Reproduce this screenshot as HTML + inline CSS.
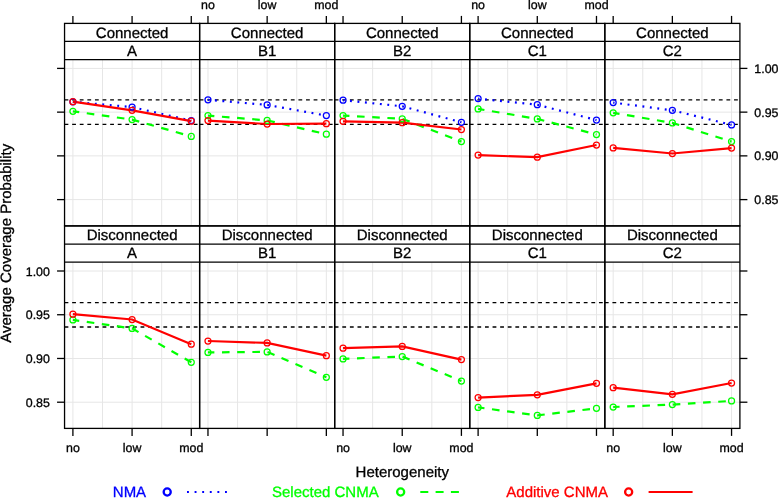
<!DOCTYPE html>
<html><head><meta charset="utf-8"><title>Average Coverage Probability</title>
<style>
html,body{margin:0;padding:0;background:#fff;}
body{width:778px;height:498px;overflow:hidden;}
svg{display:block;font-family:"Liberation Sans", sans-serif;text-rendering:geometricPrecision;}
text{stroke:currentColor;stroke-width:0.3px;fill:currentColor;color:#000;}
svg{will-change:transform;}
</style></head>
<body>
<svg width="778" height="498" viewBox="0 0 778 498">
<rect x="0" y="0" width="778" height="498" fill="#fff"/>
<line x1="72.9" y1="59.6" x2="72.9" y2="225.8" stroke="#e6e6e6" stroke-width="1"/>
<line x1="102.49" y1="59.6" x2="102.49" y2="225.8" stroke="#e6e6e6" stroke-width="1"/>
<line x1="132.08" y1="59.6" x2="132.08" y2="225.8" stroke="#e6e6e6" stroke-width="1"/>
<line x1="161.68" y1="59.6" x2="161.68" y2="225.8" stroke="#e6e6e6" stroke-width="1"/>
<line x1="191.27" y1="59.6" x2="191.27" y2="225.8" stroke="#e6e6e6" stroke-width="1"/>
<line x1="64.55" y1="199.61" x2="199.62" y2="199.61" stroke="#e6e6e6" stroke-width="1"/>
<line x1="64.55" y1="155.87" x2="199.62" y2="155.87" stroke="#e6e6e6" stroke-width="1"/>
<line x1="64.55" y1="112.14" x2="199.62" y2="112.14" stroke="#e6e6e6" stroke-width="1"/>
<line x1="64.55" y1="68.4" x2="199.62" y2="68.4" stroke="#e6e6e6" stroke-width="1"/>
<line x1="207.97" y1="59.6" x2="207.97" y2="225.8" stroke="#e6e6e6" stroke-width="1"/>
<line x1="237.56" y1="59.6" x2="237.56" y2="225.8" stroke="#e6e6e6" stroke-width="1"/>
<line x1="267.15" y1="59.6" x2="267.15" y2="225.8" stroke="#e6e6e6" stroke-width="1"/>
<line x1="296.75" y1="59.6" x2="296.75" y2="225.8" stroke="#e6e6e6" stroke-width="1"/>
<line x1="326.34" y1="59.6" x2="326.34" y2="225.8" stroke="#e6e6e6" stroke-width="1"/>
<line x1="199.62" y1="199.61" x2="334.69" y2="199.61" stroke="#e6e6e6" stroke-width="1"/>
<line x1="199.62" y1="155.87" x2="334.69" y2="155.87" stroke="#e6e6e6" stroke-width="1"/>
<line x1="199.62" y1="112.14" x2="334.69" y2="112.14" stroke="#e6e6e6" stroke-width="1"/>
<line x1="199.62" y1="68.4" x2="334.69" y2="68.4" stroke="#e6e6e6" stroke-width="1"/>
<line x1="343.04" y1="59.6" x2="343.04" y2="225.8" stroke="#e6e6e6" stroke-width="1"/>
<line x1="372.63" y1="59.6" x2="372.63" y2="225.8" stroke="#e6e6e6" stroke-width="1"/>
<line x1="402.23" y1="59.6" x2="402.23" y2="225.8" stroke="#e6e6e6" stroke-width="1"/>
<line x1="431.82" y1="59.6" x2="431.82" y2="225.8" stroke="#e6e6e6" stroke-width="1"/>
<line x1="461.41" y1="59.6" x2="461.41" y2="225.8" stroke="#e6e6e6" stroke-width="1"/>
<line x1="334.69" y1="199.61" x2="469.76" y2="199.61" stroke="#e6e6e6" stroke-width="1"/>
<line x1="334.69" y1="155.87" x2="469.76" y2="155.87" stroke="#e6e6e6" stroke-width="1"/>
<line x1="334.69" y1="112.14" x2="469.76" y2="112.14" stroke="#e6e6e6" stroke-width="1"/>
<line x1="334.69" y1="68.4" x2="469.76" y2="68.4" stroke="#e6e6e6" stroke-width="1"/>
<line x1="478.11" y1="59.6" x2="478.11" y2="225.8" stroke="#e6e6e6" stroke-width="1"/>
<line x1="507.7" y1="59.6" x2="507.7" y2="225.8" stroke="#e6e6e6" stroke-width="1"/>
<line x1="537.29" y1="59.6" x2="537.29" y2="225.8" stroke="#e6e6e6" stroke-width="1"/>
<line x1="566.89" y1="59.6" x2="566.89" y2="225.8" stroke="#e6e6e6" stroke-width="1"/>
<line x1="596.48" y1="59.6" x2="596.48" y2="225.8" stroke="#e6e6e6" stroke-width="1"/>
<line x1="469.76" y1="199.61" x2="604.83" y2="199.61" stroke="#e6e6e6" stroke-width="1"/>
<line x1="469.76" y1="155.87" x2="604.83" y2="155.87" stroke="#e6e6e6" stroke-width="1"/>
<line x1="469.76" y1="112.14" x2="604.83" y2="112.14" stroke="#e6e6e6" stroke-width="1"/>
<line x1="469.76" y1="68.4" x2="604.83" y2="68.4" stroke="#e6e6e6" stroke-width="1"/>
<line x1="613.18" y1="59.6" x2="613.18" y2="225.8" stroke="#e6e6e6" stroke-width="1"/>
<line x1="642.77" y1="59.6" x2="642.77" y2="225.8" stroke="#e6e6e6" stroke-width="1"/>
<line x1="672.36" y1="59.6" x2="672.36" y2="225.8" stroke="#e6e6e6" stroke-width="1"/>
<line x1="701.96" y1="59.6" x2="701.96" y2="225.8" stroke="#e6e6e6" stroke-width="1"/>
<line x1="731.55" y1="59.6" x2="731.55" y2="225.8" stroke="#e6e6e6" stroke-width="1"/>
<line x1="604.83" y1="199.61" x2="739.9" y2="199.61" stroke="#e6e6e6" stroke-width="1"/>
<line x1="604.83" y1="155.87" x2="739.9" y2="155.87" stroke="#e6e6e6" stroke-width="1"/>
<line x1="604.83" y1="112.14" x2="739.9" y2="112.14" stroke="#e6e6e6" stroke-width="1"/>
<line x1="604.83" y1="68.4" x2="739.9" y2="68.4" stroke="#e6e6e6" stroke-width="1"/>
<line x1="64.55" y1="99.95" x2="199.62" y2="99.95" stroke="#000" stroke-width="1.3" stroke-dasharray="3.8 3.8"/>
<line x1="64.55" y1="124.4" x2="199.62" y2="124.4" stroke="#000" stroke-width="1.3" stroke-dasharray="3.8 3.8"/>
<line x1="199.62" y1="99.95" x2="334.69" y2="99.95" stroke="#000" stroke-width="1.3" stroke-dasharray="3.8 3.8"/>
<line x1="199.62" y1="124.4" x2="334.69" y2="124.4" stroke="#000" stroke-width="1.3" stroke-dasharray="3.8 3.8"/>
<line x1="334.69" y1="99.95" x2="469.76" y2="99.95" stroke="#000" stroke-width="1.3" stroke-dasharray="3.8 3.8"/>
<line x1="334.69" y1="124.4" x2="469.76" y2="124.4" stroke="#000" stroke-width="1.3" stroke-dasharray="3.8 3.8"/>
<line x1="469.76" y1="99.95" x2="604.83" y2="99.95" stroke="#000" stroke-width="1.3" stroke-dasharray="3.8 3.8"/>
<line x1="469.76" y1="124.4" x2="604.83" y2="124.4" stroke="#000" stroke-width="1.3" stroke-dasharray="3.8 3.8"/>
<line x1="604.83" y1="99.95" x2="739.9" y2="99.95" stroke="#000" stroke-width="1.3" stroke-dasharray="3.8 3.8"/>
<line x1="604.83" y1="124.4" x2="739.9" y2="124.4" stroke="#000" stroke-width="1.3" stroke-dasharray="3.8 3.8"/>
<polyline points="72.9,101.8 132.08,107.1 191.27,120.6" fill="none" stroke="#0000ff" stroke-width="2.2" stroke-dasharray="1.9 5.6" stroke-dashoffset="0.5"/>
<polyline points="72.9,111.3 132.08,119.6 191.27,136.4" fill="none" stroke="#00ff00" stroke-width="2.2" stroke-dasharray="7.6 7.6" stroke-dashoffset="1.2"/>
<polyline points="72.9,101.7 132.08,110.3 191.27,121.2" fill="none" stroke="#ff0000" stroke-width="2.2"/>
<circle cx="72.9" cy="101.8" r="3.0" fill="none" stroke="#0000ff" stroke-width="1.25"/>
<circle cx="132.08" cy="107.1" r="3.0" fill="none" stroke="#0000ff" stroke-width="1.25"/>
<circle cx="191.27" cy="120.6" r="3.0" fill="none" stroke="#0000ff" stroke-width="1.25"/>
<circle cx="72.9" cy="111.3" r="3.0" fill="none" stroke="#00ff00" stroke-width="1.25"/>
<circle cx="132.08" cy="119.6" r="3.0" fill="none" stroke="#00ff00" stroke-width="1.25"/>
<circle cx="191.27" cy="136.4" r="3.0" fill="none" stroke="#00ff00" stroke-width="1.25"/>
<circle cx="72.9" cy="101.7" r="3.0" fill="none" stroke="#ff0000" stroke-width="1.25"/>
<circle cx="132.08" cy="110.3" r="3.0" fill="none" stroke="#ff0000" stroke-width="1.25"/>
<circle cx="191.27" cy="121.2" r="3.0" fill="none" stroke="#ff0000" stroke-width="1.25"/>
<polyline points="207.97,99.8 267.15,104.9 326.34,115.6" fill="none" stroke="#0000ff" stroke-width="2.2" stroke-dasharray="1.9 5.6" stroke-dashoffset="0.5"/>
<polyline points="207.97,115.6 267.15,120.4 326.34,134.2" fill="none" stroke="#00ff00" stroke-width="2.2" stroke-dasharray="7.6 7.6" stroke-dashoffset="1.2"/>
<polyline points="207.97,120.6 267.15,124 326.34,123.7" fill="none" stroke="#ff0000" stroke-width="2.2"/>
<circle cx="207.97" cy="99.8" r="3.0" fill="none" stroke="#0000ff" stroke-width="1.25"/>
<circle cx="267.15" cy="104.9" r="3.0" fill="none" stroke="#0000ff" stroke-width="1.25"/>
<circle cx="326.34" cy="115.6" r="3.0" fill="none" stroke="#0000ff" stroke-width="1.25"/>
<circle cx="207.97" cy="115.6" r="3.0" fill="none" stroke="#00ff00" stroke-width="1.25"/>
<circle cx="267.15" cy="120.4" r="3.0" fill="none" stroke="#00ff00" stroke-width="1.25"/>
<circle cx="326.34" cy="134.2" r="3.0" fill="none" stroke="#00ff00" stroke-width="1.25"/>
<circle cx="207.97" cy="120.6" r="3.0" fill="none" stroke="#ff0000" stroke-width="1.25"/>
<circle cx="267.15" cy="124" r="3.0" fill="none" stroke="#ff0000" stroke-width="1.25"/>
<circle cx="326.34" cy="123.7" r="3.0" fill="none" stroke="#ff0000" stroke-width="1.25"/>
<polyline points="343.04,100.2 402.23,106.3 461.41,122.3" fill="none" stroke="#0000ff" stroke-width="2.2" stroke-dasharray="1.9 5.6" stroke-dashoffset="0.5"/>
<polyline points="343.04,115.6 402.23,118.8 461.41,141.6" fill="none" stroke="#00ff00" stroke-width="2.2" stroke-dasharray="7.6 7.6" stroke-dashoffset="1.2"/>
<polyline points="343.04,121.3 402.23,122.7 461.41,129.5" fill="none" stroke="#ff0000" stroke-width="2.2"/>
<circle cx="343.04" cy="100.2" r="3.0" fill="none" stroke="#0000ff" stroke-width="1.25"/>
<circle cx="402.23" cy="106.3" r="3.0" fill="none" stroke="#0000ff" stroke-width="1.25"/>
<circle cx="461.41" cy="122.3" r="3.0" fill="none" stroke="#0000ff" stroke-width="1.25"/>
<circle cx="343.04" cy="115.6" r="3.0" fill="none" stroke="#00ff00" stroke-width="1.25"/>
<circle cx="402.23" cy="118.8" r="3.0" fill="none" stroke="#00ff00" stroke-width="1.25"/>
<circle cx="461.41" cy="141.6" r="3.0" fill="none" stroke="#00ff00" stroke-width="1.25"/>
<circle cx="343.04" cy="121.3" r="3.0" fill="none" stroke="#ff0000" stroke-width="1.25"/>
<circle cx="402.23" cy="122.7" r="3.0" fill="none" stroke="#ff0000" stroke-width="1.25"/>
<circle cx="461.41" cy="129.5" r="3.0" fill="none" stroke="#ff0000" stroke-width="1.25"/>
<polyline points="478.11,98.6 537.29,104.7 596.48,120.1" fill="none" stroke="#0000ff" stroke-width="2.2" stroke-dasharray="1.9 5.6" stroke-dashoffset="0.5"/>
<polyline points="478.11,108.9 537.29,118.9 596.48,134.5" fill="none" stroke="#00ff00" stroke-width="2.2" stroke-dasharray="7.6 7.6" stroke-dashoffset="1.2"/>
<polyline points="478.11,155.1 537.29,157.2 596.48,145" fill="none" stroke="#ff0000" stroke-width="2.2"/>
<circle cx="478.11" cy="98.6" r="3.0" fill="none" stroke="#0000ff" stroke-width="1.25"/>
<circle cx="537.29" cy="104.7" r="3.0" fill="none" stroke="#0000ff" stroke-width="1.25"/>
<circle cx="596.48" cy="120.1" r="3.0" fill="none" stroke="#0000ff" stroke-width="1.25"/>
<circle cx="478.11" cy="108.9" r="3.0" fill="none" stroke="#00ff00" stroke-width="1.25"/>
<circle cx="537.29" cy="118.9" r="3.0" fill="none" stroke="#00ff00" stroke-width="1.25"/>
<circle cx="596.48" cy="134.5" r="3.0" fill="none" stroke="#00ff00" stroke-width="1.25"/>
<circle cx="478.11" cy="155.1" r="3.0" fill="none" stroke="#ff0000" stroke-width="1.25"/>
<circle cx="537.29" cy="157.2" r="3.0" fill="none" stroke="#ff0000" stroke-width="1.25"/>
<circle cx="596.48" cy="145" r="3.0" fill="none" stroke="#ff0000" stroke-width="1.25"/>
<polyline points="613.18,102.6 672.36,110.3 731.55,124.9" fill="none" stroke="#0000ff" stroke-width="2.2" stroke-dasharray="1.9 5.6" stroke-dashoffset="0.5"/>
<polyline points="613.18,112.8 672.36,122.9 731.55,141.6" fill="none" stroke="#00ff00" stroke-width="2.2" stroke-dasharray="7.6 7.6" stroke-dashoffset="1.2"/>
<polyline points="613.18,147.9 672.36,153.5 731.55,148.1" fill="none" stroke="#ff0000" stroke-width="2.2"/>
<circle cx="613.18" cy="102.6" r="3.0" fill="none" stroke="#0000ff" stroke-width="1.25"/>
<circle cx="672.36" cy="110.3" r="3.0" fill="none" stroke="#0000ff" stroke-width="1.25"/>
<circle cx="731.55" cy="124.9" r="3.0" fill="none" stroke="#0000ff" stroke-width="1.25"/>
<circle cx="613.18" cy="112.8" r="3.0" fill="none" stroke="#00ff00" stroke-width="1.25"/>
<circle cx="672.36" cy="122.9" r="3.0" fill="none" stroke="#00ff00" stroke-width="1.25"/>
<circle cx="731.55" cy="141.6" r="3.0" fill="none" stroke="#00ff00" stroke-width="1.25"/>
<circle cx="613.18" cy="147.9" r="3.0" fill="none" stroke="#ff0000" stroke-width="1.25"/>
<circle cx="672.36" cy="153.5" r="3.0" fill="none" stroke="#ff0000" stroke-width="1.25"/>
<circle cx="731.55" cy="148.1" r="3.0" fill="none" stroke="#ff0000" stroke-width="1.25"/>
<rect x="64.55" y="23.4" width="135.07" height="202.4" fill="none" stroke="#000" stroke-width="1.3"/>
<line x1="64.55" y1="41.45" x2="199.62" y2="41.45" stroke="#000" stroke-width="1.3"/>
<line x1="64.55" y1="59.6" x2="199.62" y2="59.6" stroke="#000" stroke-width="1.3"/>
<text x="132.09" y="38" text-anchor="middle" font-size="15.0">Connected</text>
<text x="132.09" y="56" text-anchor="middle" font-size="15.0">A</text>
<rect x="199.62" y="23.4" width="135.07" height="202.4" fill="none" stroke="#000" stroke-width="1.3"/>
<line x1="199.62" y1="41.45" x2="334.69" y2="41.45" stroke="#000" stroke-width="1.3"/>
<line x1="199.62" y1="59.6" x2="334.69" y2="59.6" stroke="#000" stroke-width="1.3"/>
<text x="267.15" y="38" text-anchor="middle" font-size="15.0">Connected</text>
<text x="267.15" y="56" text-anchor="middle" font-size="15.0">B1</text>
<rect x="334.69" y="23.4" width="135.07" height="202.4" fill="none" stroke="#000" stroke-width="1.3"/>
<line x1="334.69" y1="41.45" x2="469.76" y2="41.45" stroke="#000" stroke-width="1.3"/>
<line x1="334.69" y1="59.6" x2="469.76" y2="59.6" stroke="#000" stroke-width="1.3"/>
<text x="402.23" y="38" text-anchor="middle" font-size="15.0">Connected</text>
<text x="402.23" y="56" text-anchor="middle" font-size="15.0">B2</text>
<rect x="469.76" y="23.4" width="135.07" height="202.4" fill="none" stroke="#000" stroke-width="1.3"/>
<line x1="469.76" y1="41.45" x2="604.83" y2="41.45" stroke="#000" stroke-width="1.3"/>
<line x1="469.76" y1="59.6" x2="604.83" y2="59.6" stroke="#000" stroke-width="1.3"/>
<text x="537.29" y="38" text-anchor="middle" font-size="15.0">Connected</text>
<text x="537.29" y="56" text-anchor="middle" font-size="15.0">C1</text>
<rect x="604.83" y="23.4" width="135.07" height="202.4" fill="none" stroke="#000" stroke-width="1.3"/>
<line x1="604.83" y1="41.45" x2="739.9" y2="41.45" stroke="#000" stroke-width="1.3"/>
<line x1="604.83" y1="59.6" x2="739.9" y2="59.6" stroke="#000" stroke-width="1.3"/>
<text x="672.36" y="38" text-anchor="middle" font-size="15.0">Connected</text>
<text x="672.36" y="56" text-anchor="middle" font-size="15.0">C2</text>
<line x1="72.9" y1="262.2" x2="72.9" y2="428.4" stroke="#e6e6e6" stroke-width="1"/>
<line x1="102.49" y1="262.2" x2="102.49" y2="428.4" stroke="#e6e6e6" stroke-width="1"/>
<line x1="132.08" y1="262.2" x2="132.08" y2="428.4" stroke="#e6e6e6" stroke-width="1"/>
<line x1="161.68" y1="262.2" x2="161.68" y2="428.4" stroke="#e6e6e6" stroke-width="1"/>
<line x1="191.27" y1="262.2" x2="191.27" y2="428.4" stroke="#e6e6e6" stroke-width="1"/>
<line x1="64.55" y1="402.21" x2="199.62" y2="402.21" stroke="#e6e6e6" stroke-width="1"/>
<line x1="64.55" y1="358.47" x2="199.62" y2="358.47" stroke="#e6e6e6" stroke-width="1"/>
<line x1="64.55" y1="314.74" x2="199.62" y2="314.74" stroke="#e6e6e6" stroke-width="1"/>
<line x1="64.55" y1="271" x2="199.62" y2="271" stroke="#e6e6e6" stroke-width="1"/>
<line x1="207.97" y1="262.2" x2="207.97" y2="428.4" stroke="#e6e6e6" stroke-width="1"/>
<line x1="237.56" y1="262.2" x2="237.56" y2="428.4" stroke="#e6e6e6" stroke-width="1"/>
<line x1="267.15" y1="262.2" x2="267.15" y2="428.4" stroke="#e6e6e6" stroke-width="1"/>
<line x1="296.75" y1="262.2" x2="296.75" y2="428.4" stroke="#e6e6e6" stroke-width="1"/>
<line x1="326.34" y1="262.2" x2="326.34" y2="428.4" stroke="#e6e6e6" stroke-width="1"/>
<line x1="199.62" y1="402.21" x2="334.69" y2="402.21" stroke="#e6e6e6" stroke-width="1"/>
<line x1="199.62" y1="358.47" x2="334.69" y2="358.47" stroke="#e6e6e6" stroke-width="1"/>
<line x1="199.62" y1="314.74" x2="334.69" y2="314.74" stroke="#e6e6e6" stroke-width="1"/>
<line x1="199.62" y1="271" x2="334.69" y2="271" stroke="#e6e6e6" stroke-width="1"/>
<line x1="343.04" y1="262.2" x2="343.04" y2="428.4" stroke="#e6e6e6" stroke-width="1"/>
<line x1="372.63" y1="262.2" x2="372.63" y2="428.4" stroke="#e6e6e6" stroke-width="1"/>
<line x1="402.23" y1="262.2" x2="402.23" y2="428.4" stroke="#e6e6e6" stroke-width="1"/>
<line x1="431.82" y1="262.2" x2="431.82" y2="428.4" stroke="#e6e6e6" stroke-width="1"/>
<line x1="461.41" y1="262.2" x2="461.41" y2="428.4" stroke="#e6e6e6" stroke-width="1"/>
<line x1="334.69" y1="402.21" x2="469.76" y2="402.21" stroke="#e6e6e6" stroke-width="1"/>
<line x1="334.69" y1="358.47" x2="469.76" y2="358.47" stroke="#e6e6e6" stroke-width="1"/>
<line x1="334.69" y1="314.74" x2="469.76" y2="314.74" stroke="#e6e6e6" stroke-width="1"/>
<line x1="334.69" y1="271" x2="469.76" y2="271" stroke="#e6e6e6" stroke-width="1"/>
<line x1="478.11" y1="262.2" x2="478.11" y2="428.4" stroke="#e6e6e6" stroke-width="1"/>
<line x1="507.7" y1="262.2" x2="507.7" y2="428.4" stroke="#e6e6e6" stroke-width="1"/>
<line x1="537.29" y1="262.2" x2="537.29" y2="428.4" stroke="#e6e6e6" stroke-width="1"/>
<line x1="566.89" y1="262.2" x2="566.89" y2="428.4" stroke="#e6e6e6" stroke-width="1"/>
<line x1="596.48" y1="262.2" x2="596.48" y2="428.4" stroke="#e6e6e6" stroke-width="1"/>
<line x1="469.76" y1="402.21" x2="604.83" y2="402.21" stroke="#e6e6e6" stroke-width="1"/>
<line x1="469.76" y1="358.47" x2="604.83" y2="358.47" stroke="#e6e6e6" stroke-width="1"/>
<line x1="469.76" y1="314.74" x2="604.83" y2="314.74" stroke="#e6e6e6" stroke-width="1"/>
<line x1="469.76" y1="271" x2="604.83" y2="271" stroke="#e6e6e6" stroke-width="1"/>
<line x1="613.18" y1="262.2" x2="613.18" y2="428.4" stroke="#e6e6e6" stroke-width="1"/>
<line x1="642.77" y1="262.2" x2="642.77" y2="428.4" stroke="#e6e6e6" stroke-width="1"/>
<line x1="672.36" y1="262.2" x2="672.36" y2="428.4" stroke="#e6e6e6" stroke-width="1"/>
<line x1="701.96" y1="262.2" x2="701.96" y2="428.4" stroke="#e6e6e6" stroke-width="1"/>
<line x1="731.55" y1="262.2" x2="731.55" y2="428.4" stroke="#e6e6e6" stroke-width="1"/>
<line x1="604.83" y1="402.21" x2="739.9" y2="402.21" stroke="#e6e6e6" stroke-width="1"/>
<line x1="604.83" y1="358.47" x2="739.9" y2="358.47" stroke="#e6e6e6" stroke-width="1"/>
<line x1="604.83" y1="314.74" x2="739.9" y2="314.74" stroke="#e6e6e6" stroke-width="1"/>
<line x1="604.83" y1="271" x2="739.9" y2="271" stroke="#e6e6e6" stroke-width="1"/>
<line x1="64.55" y1="302.55" x2="199.62" y2="302.55" stroke="#000" stroke-width="1.3" stroke-dasharray="3.8 3.8"/>
<line x1="64.55" y1="327" x2="199.62" y2="327" stroke="#000" stroke-width="1.3" stroke-dasharray="3.8 3.8"/>
<line x1="199.62" y1="302.55" x2="334.69" y2="302.55" stroke="#000" stroke-width="1.3" stroke-dasharray="3.8 3.8"/>
<line x1="199.62" y1="327" x2="334.69" y2="327" stroke="#000" stroke-width="1.3" stroke-dasharray="3.8 3.8"/>
<line x1="334.69" y1="302.55" x2="469.76" y2="302.55" stroke="#000" stroke-width="1.3" stroke-dasharray="3.8 3.8"/>
<line x1="334.69" y1="327" x2="469.76" y2="327" stroke="#000" stroke-width="1.3" stroke-dasharray="3.8 3.8"/>
<line x1="469.76" y1="302.55" x2="604.83" y2="302.55" stroke="#000" stroke-width="1.3" stroke-dasharray="3.8 3.8"/>
<line x1="469.76" y1="327" x2="604.83" y2="327" stroke="#000" stroke-width="1.3" stroke-dasharray="3.8 3.8"/>
<line x1="604.83" y1="302.55" x2="739.9" y2="302.55" stroke="#000" stroke-width="1.3" stroke-dasharray="3.8 3.8"/>
<line x1="604.83" y1="327" x2="739.9" y2="327" stroke="#000" stroke-width="1.3" stroke-dasharray="3.8 3.8"/>
<polyline points="72.9,319.9 132.08,328.4 191.27,362.3" fill="none" stroke="#00ff00" stroke-width="2.2" stroke-dasharray="7.6 7.6" stroke-dashoffset="1.2"/>
<polyline points="72.9,314.2 132.08,319.5 191.27,344.2" fill="none" stroke="#ff0000" stroke-width="2.2"/>
<circle cx="72.9" cy="319.9" r="3.0" fill="none" stroke="#00ff00" stroke-width="1.25"/>
<circle cx="132.08" cy="328.4" r="3.0" fill="none" stroke="#00ff00" stroke-width="1.25"/>
<circle cx="191.27" cy="362.3" r="3.0" fill="none" stroke="#00ff00" stroke-width="1.25"/>
<circle cx="72.9" cy="314.2" r="3.0" fill="none" stroke="#ff0000" stroke-width="1.25"/>
<circle cx="132.08" cy="319.5" r="3.0" fill="none" stroke="#ff0000" stroke-width="1.25"/>
<circle cx="191.27" cy="344.2" r="3.0" fill="none" stroke="#ff0000" stroke-width="1.25"/>
<polyline points="207.97,352.4 267.15,351.9 326.34,377.3" fill="none" stroke="#00ff00" stroke-width="2.2" stroke-dasharray="7.6 7.6" stroke-dashoffset="1.2"/>
<polyline points="207.97,341 267.15,342.9 326.34,355.7" fill="none" stroke="#ff0000" stroke-width="2.2"/>
<circle cx="207.97" cy="352.4" r="3.0" fill="none" stroke="#00ff00" stroke-width="1.25"/>
<circle cx="267.15" cy="351.9" r="3.0" fill="none" stroke="#00ff00" stroke-width="1.25"/>
<circle cx="326.34" cy="377.3" r="3.0" fill="none" stroke="#00ff00" stroke-width="1.25"/>
<circle cx="207.97" cy="341" r="3.0" fill="none" stroke="#ff0000" stroke-width="1.25"/>
<circle cx="267.15" cy="342.9" r="3.0" fill="none" stroke="#ff0000" stroke-width="1.25"/>
<circle cx="326.34" cy="355.7" r="3.0" fill="none" stroke="#ff0000" stroke-width="1.25"/>
<polyline points="343.04,358.9 402.23,356.5 461.41,381" fill="none" stroke="#00ff00" stroke-width="2.2" stroke-dasharray="7.6 7.6" stroke-dashoffset="1.2"/>
<polyline points="343.04,348.2 402.23,346.4 461.41,359.6" fill="none" stroke="#ff0000" stroke-width="2.2"/>
<circle cx="343.04" cy="358.9" r="3.0" fill="none" stroke="#00ff00" stroke-width="1.25"/>
<circle cx="402.23" cy="356.5" r="3.0" fill="none" stroke="#00ff00" stroke-width="1.25"/>
<circle cx="461.41" cy="381" r="3.0" fill="none" stroke="#00ff00" stroke-width="1.25"/>
<circle cx="343.04" cy="348.2" r="3.0" fill="none" stroke="#ff0000" stroke-width="1.25"/>
<circle cx="402.23" cy="346.4" r="3.0" fill="none" stroke="#ff0000" stroke-width="1.25"/>
<circle cx="461.41" cy="359.6" r="3.0" fill="none" stroke="#ff0000" stroke-width="1.25"/>
<polyline points="478.11,407.4 537.29,415.4 596.48,408.3" fill="none" stroke="#00ff00" stroke-width="2.2" stroke-dasharray="7.6 7.6" stroke-dashoffset="1.2"/>
<polyline points="478.11,397.6 537.29,394.8 596.48,383.3" fill="none" stroke="#ff0000" stroke-width="2.2"/>
<circle cx="478.11" cy="407.4" r="3.0" fill="none" stroke="#00ff00" stroke-width="1.25"/>
<circle cx="537.29" cy="415.4" r="3.0" fill="none" stroke="#00ff00" stroke-width="1.25"/>
<circle cx="596.48" cy="408.3" r="3.0" fill="none" stroke="#00ff00" stroke-width="1.25"/>
<circle cx="478.11" cy="397.6" r="3.0" fill="none" stroke="#ff0000" stroke-width="1.25"/>
<circle cx="537.29" cy="394.8" r="3.0" fill="none" stroke="#ff0000" stroke-width="1.25"/>
<circle cx="596.48" cy="383.3" r="3.0" fill="none" stroke="#ff0000" stroke-width="1.25"/>
<polyline points="613.18,407 672.36,404.6 731.55,400.9" fill="none" stroke="#00ff00" stroke-width="2.2" stroke-dasharray="7.6 7.6" stroke-dashoffset="1.2"/>
<polyline points="613.18,387.7 672.36,394.3 731.55,383" fill="none" stroke="#ff0000" stroke-width="2.2"/>
<circle cx="613.18" cy="407" r="3.0" fill="none" stroke="#00ff00" stroke-width="1.25"/>
<circle cx="672.36" cy="404.6" r="3.0" fill="none" stroke="#00ff00" stroke-width="1.25"/>
<circle cx="731.55" cy="400.9" r="3.0" fill="none" stroke="#00ff00" stroke-width="1.25"/>
<circle cx="613.18" cy="387.7" r="3.0" fill="none" stroke="#ff0000" stroke-width="1.25"/>
<circle cx="672.36" cy="394.3" r="3.0" fill="none" stroke="#ff0000" stroke-width="1.25"/>
<circle cx="731.55" cy="383" r="3.0" fill="none" stroke="#ff0000" stroke-width="1.25"/>
<rect x="64.55" y="226" width="135.07" height="202.4" fill="none" stroke="#000" stroke-width="1.3"/>
<line x1="64.55" y1="244.05" x2="199.62" y2="244.05" stroke="#000" stroke-width="1.3"/>
<line x1="64.55" y1="262.2" x2="199.62" y2="262.2" stroke="#000" stroke-width="1.3"/>
<text x="132.09" y="240" text-anchor="middle" font-size="15.0">Disconnected</text>
<text x="132.09" y="258" text-anchor="middle" font-size="15.0">A</text>
<rect x="199.62" y="226" width="135.07" height="202.4" fill="none" stroke="#000" stroke-width="1.3"/>
<line x1="199.62" y1="244.05" x2="334.69" y2="244.05" stroke="#000" stroke-width="1.3"/>
<line x1="199.62" y1="262.2" x2="334.69" y2="262.2" stroke="#000" stroke-width="1.3"/>
<text x="267.15" y="240" text-anchor="middle" font-size="15.0">Disconnected</text>
<text x="267.15" y="258" text-anchor="middle" font-size="15.0">B1</text>
<rect x="334.69" y="226" width="135.07" height="202.4" fill="none" stroke="#000" stroke-width="1.3"/>
<line x1="334.69" y1="244.05" x2="469.76" y2="244.05" stroke="#000" stroke-width="1.3"/>
<line x1="334.69" y1="262.2" x2="469.76" y2="262.2" stroke="#000" stroke-width="1.3"/>
<text x="402.23" y="240" text-anchor="middle" font-size="15.0">Disconnected</text>
<text x="402.23" y="258" text-anchor="middle" font-size="15.0">B2</text>
<rect x="469.76" y="226" width="135.07" height="202.4" fill="none" stroke="#000" stroke-width="1.3"/>
<line x1="469.76" y1="244.05" x2="604.83" y2="244.05" stroke="#000" stroke-width="1.3"/>
<line x1="469.76" y1="262.2" x2="604.83" y2="262.2" stroke="#000" stroke-width="1.3"/>
<text x="537.29" y="240" text-anchor="middle" font-size="15.0">Disconnected</text>
<text x="537.29" y="258" text-anchor="middle" font-size="15.0">C1</text>
<rect x="604.83" y="226" width="135.07" height="202.4" fill="none" stroke="#000" stroke-width="1.3"/>
<line x1="604.83" y1="244.05" x2="739.9" y2="244.05" stroke="#000" stroke-width="1.3"/>
<line x1="604.83" y1="262.2" x2="739.9" y2="262.2" stroke="#000" stroke-width="1.3"/>
<text x="672.36" y="240" text-anchor="middle" font-size="15.0">Disconnected</text>
<text x="672.36" y="258" text-anchor="middle" font-size="15.0">C2</text>
<line x1="72.9" y1="23.4" x2="72.9" y2="15.9" stroke="#000" stroke-width="1.3"/>
<line x1="72.9" y1="428.4" x2="72.9" y2="435.9" stroke="#000" stroke-width="1.3"/>
<line x1="132.08" y1="23.4" x2="132.08" y2="15.9" stroke="#000" stroke-width="1.3"/>
<line x1="132.08" y1="428.4" x2="132.08" y2="435.9" stroke="#000" stroke-width="1.3"/>
<line x1="191.27" y1="23.4" x2="191.27" y2="15.9" stroke="#000" stroke-width="1.3"/>
<line x1="191.27" y1="428.4" x2="191.27" y2="435.9" stroke="#000" stroke-width="1.3"/>
<line x1="207.97" y1="23.4" x2="207.97" y2="15.9" stroke="#000" stroke-width="1.3"/>
<line x1="207.97" y1="428.4" x2="207.97" y2="435.9" stroke="#000" stroke-width="1.3"/>
<line x1="267.15" y1="23.4" x2="267.15" y2="15.9" stroke="#000" stroke-width="1.3"/>
<line x1="267.15" y1="428.4" x2="267.15" y2="435.9" stroke="#000" stroke-width="1.3"/>
<line x1="326.34" y1="23.4" x2="326.34" y2="15.9" stroke="#000" stroke-width="1.3"/>
<line x1="326.34" y1="428.4" x2="326.34" y2="435.9" stroke="#000" stroke-width="1.3"/>
<line x1="343.04" y1="23.4" x2="343.04" y2="15.9" stroke="#000" stroke-width="1.3"/>
<line x1="343.04" y1="428.4" x2="343.04" y2="435.9" stroke="#000" stroke-width="1.3"/>
<line x1="402.23" y1="23.4" x2="402.23" y2="15.9" stroke="#000" stroke-width="1.3"/>
<line x1="402.23" y1="428.4" x2="402.23" y2="435.9" stroke="#000" stroke-width="1.3"/>
<line x1="461.41" y1="23.4" x2="461.41" y2="15.9" stroke="#000" stroke-width="1.3"/>
<line x1="461.41" y1="428.4" x2="461.41" y2="435.9" stroke="#000" stroke-width="1.3"/>
<line x1="478.11" y1="23.4" x2="478.11" y2="15.9" stroke="#000" stroke-width="1.3"/>
<line x1="478.11" y1="428.4" x2="478.11" y2="435.9" stroke="#000" stroke-width="1.3"/>
<line x1="537.29" y1="23.4" x2="537.29" y2="15.9" stroke="#000" stroke-width="1.3"/>
<line x1="537.29" y1="428.4" x2="537.29" y2="435.9" stroke="#000" stroke-width="1.3"/>
<line x1="596.48" y1="23.4" x2="596.48" y2="15.9" stroke="#000" stroke-width="1.3"/>
<line x1="596.48" y1="428.4" x2="596.48" y2="435.9" stroke="#000" stroke-width="1.3"/>
<line x1="613.18" y1="23.4" x2="613.18" y2="15.9" stroke="#000" stroke-width="1.3"/>
<line x1="613.18" y1="428.4" x2="613.18" y2="435.9" stroke="#000" stroke-width="1.3"/>
<line x1="672.36" y1="23.4" x2="672.36" y2="15.9" stroke="#000" stroke-width="1.3"/>
<line x1="672.36" y1="428.4" x2="672.36" y2="435.9" stroke="#000" stroke-width="1.3"/>
<line x1="731.55" y1="23.4" x2="731.55" y2="15.9" stroke="#000" stroke-width="1.3"/>
<line x1="731.55" y1="428.4" x2="731.55" y2="435.9" stroke="#000" stroke-width="1.3"/>
<text x="207.97" y="9.0" text-anchor="middle" font-size="12.4">no</text>
<text x="267.15" y="9.0" text-anchor="middle" font-size="12.4">low</text>
<text x="326.34" y="9.0" text-anchor="middle" font-size="12.4">mod</text>
<text x="478.11" y="9.0" text-anchor="middle" font-size="12.4">no</text>
<text x="537.29" y="9.0" text-anchor="middle" font-size="12.4">low</text>
<text x="596.48" y="9.0" text-anchor="middle" font-size="12.4">mod</text>
<text x="72.9" y="451.6" text-anchor="middle" font-size="12.4">no</text>
<text x="132.08" y="451.6" text-anchor="middle" font-size="12.4">low</text>
<text x="191.27" y="451.6" text-anchor="middle" font-size="12.4">mod</text>
<text x="343.04" y="451.6" text-anchor="middle" font-size="12.4">no</text>
<text x="402.23" y="451.6" text-anchor="middle" font-size="12.4">low</text>
<text x="461.41" y="451.6" text-anchor="middle" font-size="12.4">mod</text>
<text x="613.18" y="451.6" text-anchor="middle" font-size="12.4">no</text>
<text x="672.36" y="451.6" text-anchor="middle" font-size="12.4">low</text>
<text x="731.55" y="451.6" text-anchor="middle" font-size="12.4">mod</text>
<line x1="64.55" y1="68.4" x2="57.05" y2="68.4" stroke="#000" stroke-width="1.3"/>
<line x1="739.9" y1="68.4" x2="747.4" y2="68.4" stroke="#000" stroke-width="1.3"/>
<line x1="64.55" y1="112.14" x2="57.05" y2="112.14" stroke="#000" stroke-width="1.3"/>
<line x1="739.9" y1="112.14" x2="747.4" y2="112.14" stroke="#000" stroke-width="1.3"/>
<line x1="64.55" y1="155.87" x2="57.05" y2="155.87" stroke="#000" stroke-width="1.3"/>
<line x1="739.9" y1="155.87" x2="747.4" y2="155.87" stroke="#000" stroke-width="1.3"/>
<line x1="64.55" y1="199.61" x2="57.05" y2="199.61" stroke="#000" stroke-width="1.3"/>
<line x1="739.9" y1="199.61" x2="747.4" y2="199.61" stroke="#000" stroke-width="1.3"/>
<line x1="64.55" y1="271" x2="57.05" y2="271" stroke="#000" stroke-width="1.3"/>
<line x1="739.9" y1="271" x2="747.4" y2="271" stroke="#000" stroke-width="1.3"/>
<line x1="64.55" y1="314.74" x2="57.05" y2="314.74" stroke="#000" stroke-width="1.3"/>
<line x1="739.9" y1="314.74" x2="747.4" y2="314.74" stroke="#000" stroke-width="1.3"/>
<line x1="64.55" y1="358.47" x2="57.05" y2="358.47" stroke="#000" stroke-width="1.3"/>
<line x1="739.9" y1="358.47" x2="747.4" y2="358.47" stroke="#000" stroke-width="1.3"/>
<line x1="64.55" y1="402.21" x2="57.05" y2="402.21" stroke="#000" stroke-width="1.3"/>
<line x1="739.9" y1="402.21" x2="747.4" y2="402.21" stroke="#000" stroke-width="1.3"/>
<text x="754.3" y="73" font-size="12.4">1.00</text>
<text x="49.9" y="275.6" text-anchor="end" font-size="12.4">1.00</text>
<text x="754.3" y="116.74" font-size="12.4">0.95</text>
<text x="49.9" y="319.34" text-anchor="end" font-size="12.4">0.95</text>
<text x="754.3" y="160.47" font-size="12.4">0.90</text>
<text x="49.9" y="363.07" text-anchor="end" font-size="12.4">0.90</text>
<text x="754.3" y="204.21" font-size="12.4">0.85</text>
<text x="49.9" y="406.81" text-anchor="end" font-size="12.4">0.85</text>
<text x="402.3" y="477.0" text-anchor="middle" font-size="15.0">Heterogeneity</text>
<text transform="translate(11.0,243.3) rotate(-90)" text-anchor="middle" font-size="15.0">Average Coverage Probability</text>
<text x="112.8" y="497.2" font-size="15.0" style="color:#0000ff">NMA</text>
<circle cx="167.2" cy="492.0" r="3.55" fill="none" stroke="#0000ff" stroke-width="2.3"/>
<line x1="187" y1="492.0" x2="227" y2="492.0" stroke="#0000ff" stroke-width="2" stroke-dasharray="1.9 5.7"/>
<text x="272.0" y="497.2" font-size="15.0" style="color:#00ff00">Selected CNMA</text>
<circle cx="400.65" cy="492.0" r="3.55" fill="none" stroke="#00ff00" stroke-width="2.3"/>
<line x1="420.3" y1="492.0" x2="460.3" y2="492.0" stroke="#00ff00" stroke-width="2" stroke-dasharray="8 7.3"/>
<text x="506.3" y="497.2" font-size="15.0" style="color:#ff0000">Additive CNMA</text>
<circle cx="628.65" cy="492.0" r="3.55" fill="none" stroke="#ff0000" stroke-width="2.3"/>
<line x1="648.6" y1="492.0" x2="692.6" y2="492.0" stroke="#ff0000" stroke-width="2"/>
</svg>
</body></html>
